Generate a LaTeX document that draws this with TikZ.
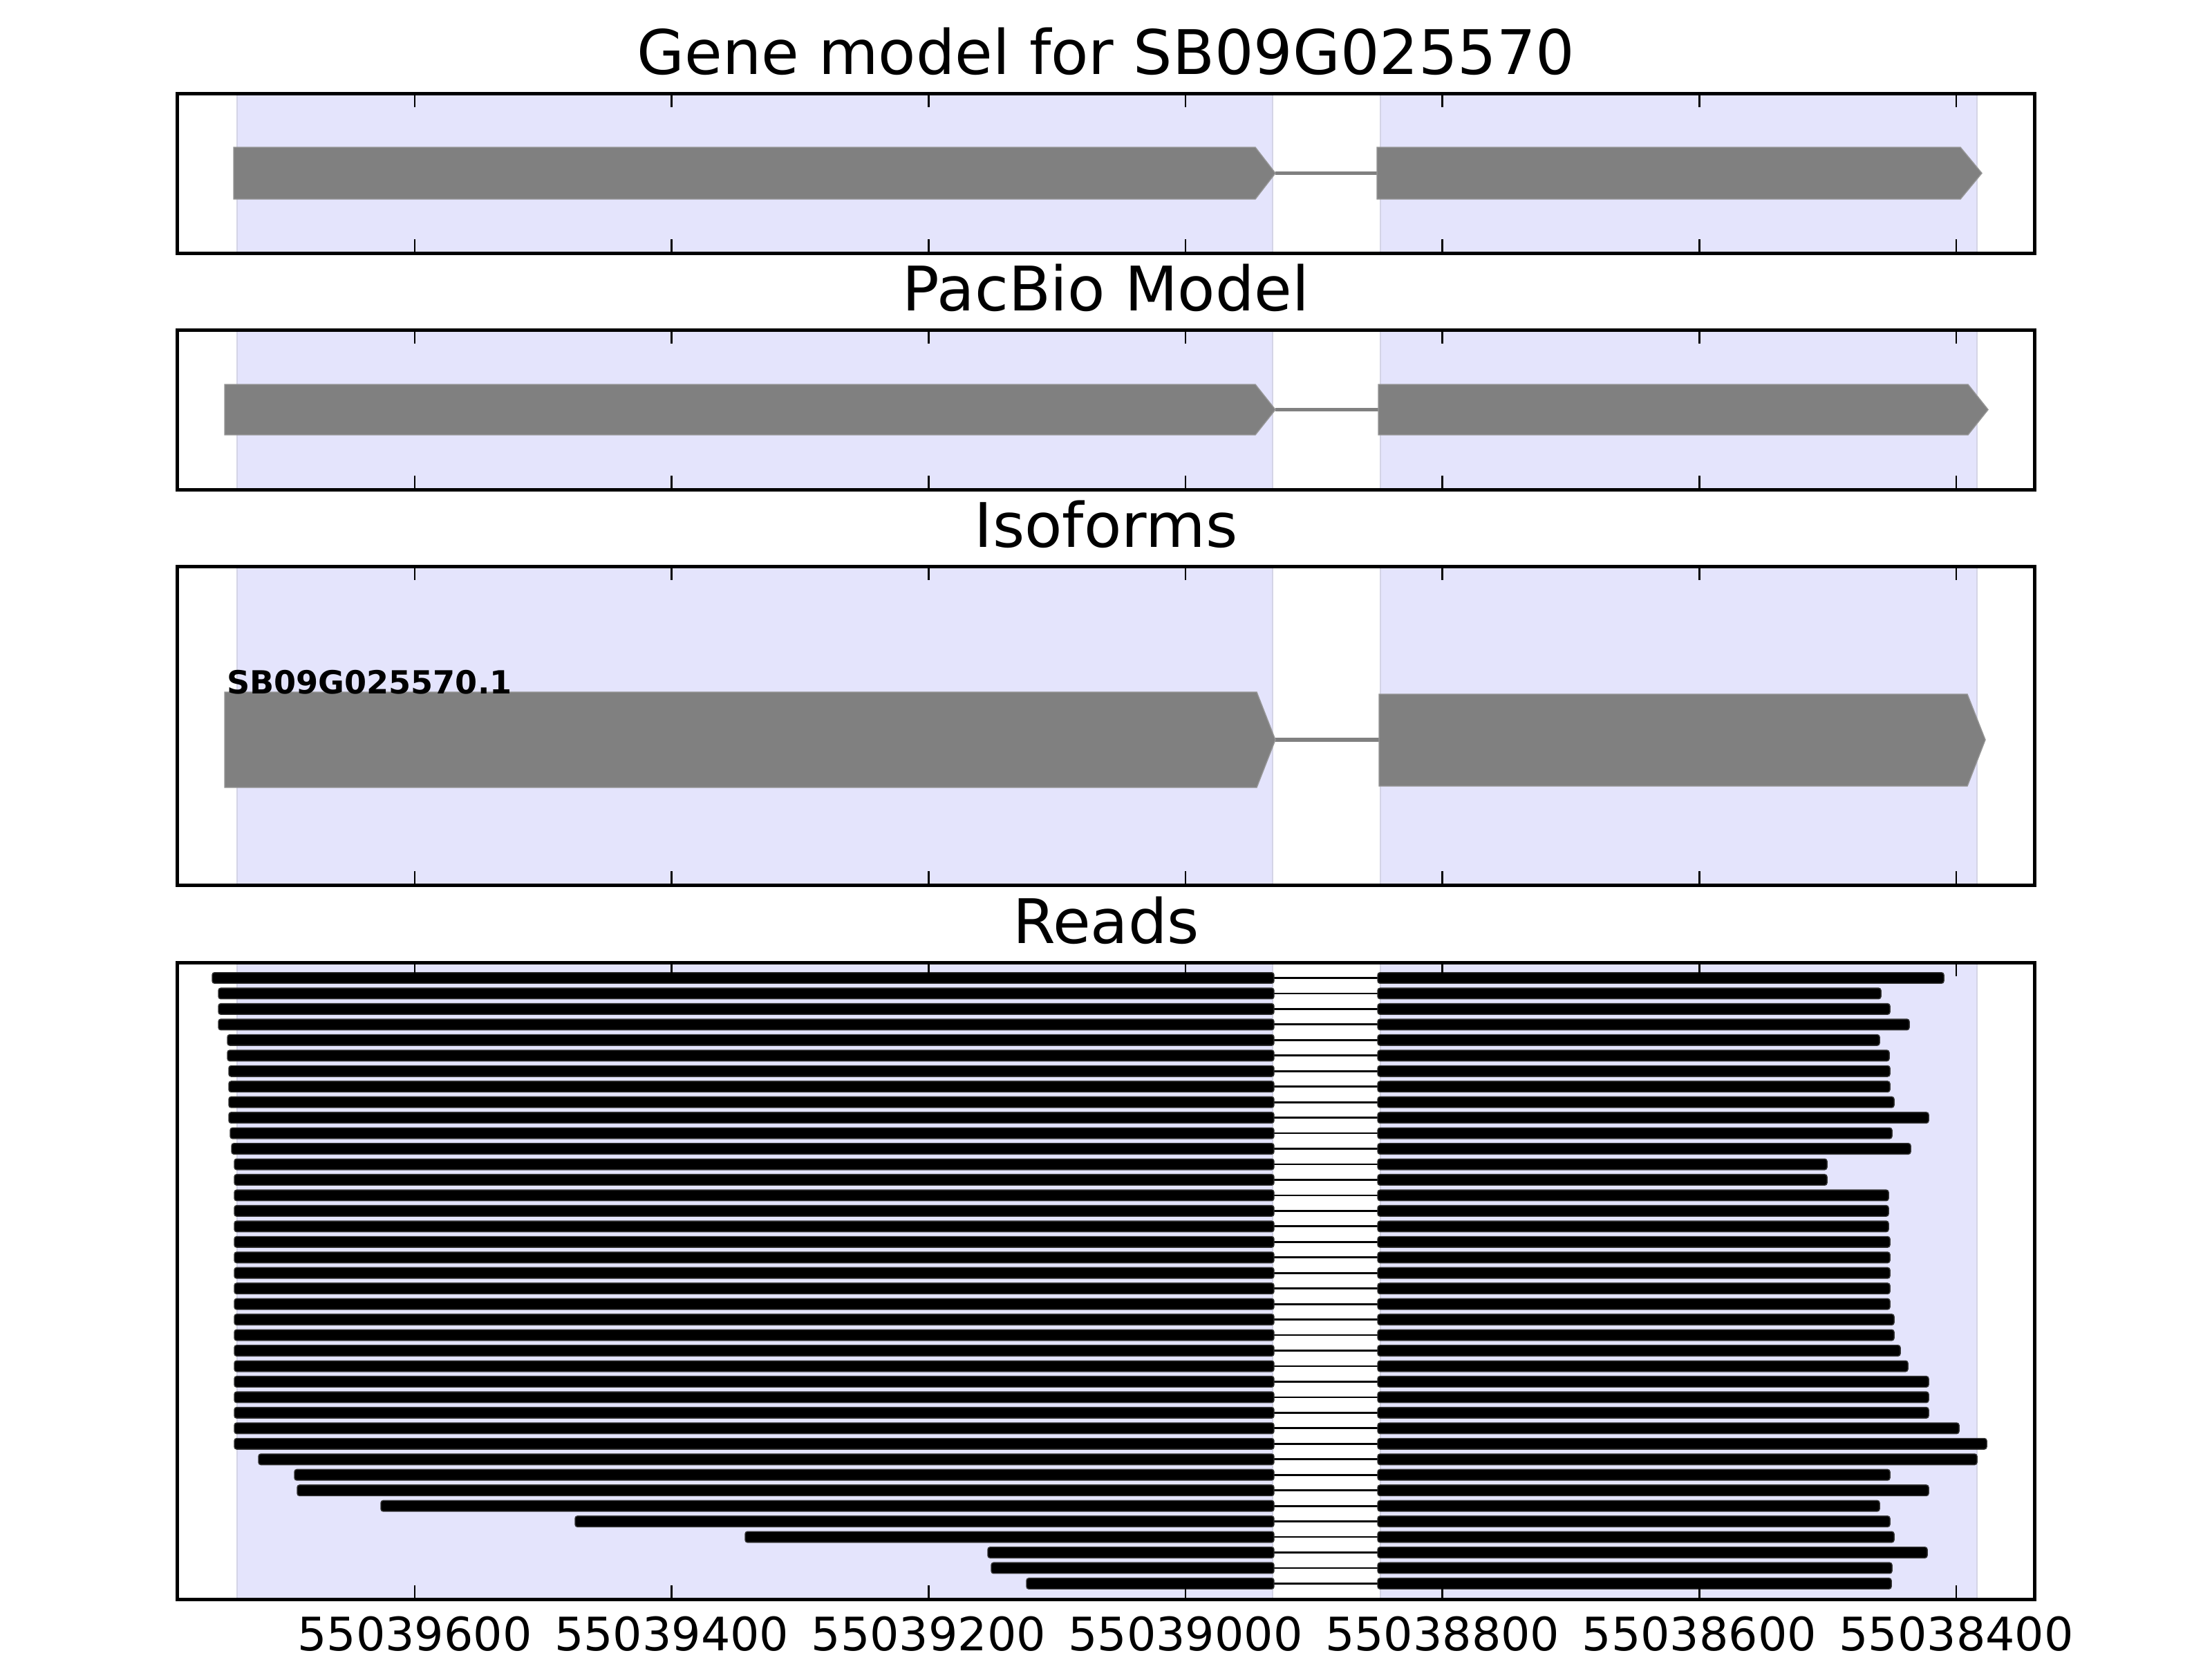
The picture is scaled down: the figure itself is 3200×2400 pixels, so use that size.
\documentclass[tikz,border=0pt]{standalone}
\usepackage{fontspec}
\setmainfont{DejaVu Sans}
\definecolor{spanfill}{RGB}{228,228,252}
\definecolor{spanedge}{RGB}{212,212,230}
\definecolor{genegray}{RGB}{128,128,128}
\definecolor{geneedge}{RGB}{150,150,150}
\begin{document}
\begin{tikzpicture}[x=0.18pt,y=-0.18pt,
  spanbox/.style={fill=spanfill},
  spanline/.style={draw=spanedge,line width=0.35pt},
  exonshape/.style={fill=genegray,draw=geneedge,line width=0.25pt},
  intronline/.style={draw=genegray,line width=1pt},
  readbar/.style={fill=black,draw=black!80,line width=0.25pt,rounded corners=0.6pt},
  readintron/.style={draw=black,line width=0.5pt},
  framebox/.style={draw=black,line width=0.9pt},
  tickmark/.style={draw=black,line width=0.5pt},
  paneltitle/.style={anchor=base,font=\fontsize{16}{19}\selectfont,inner sep=0pt},
  ticklabel/.style={anchor=base,font=\fontsize{12}{14}\selectfont,inner sep=0pt},
  isolabel/.style={anchor=base west,font=\fontsize{8.3}{10}\selectfont\bfseries,inner sep=0pt}]
\useasboundingbox (0,0) rectangle (3200,2400);
\fill[white] (0,0) rectangle (3200,2400);
% exon spans in every panel
\foreach \t/\b in {135/366,477/708,819/1280,1392/2313}{
  \fill[spanbox] (343,\t) rectangle (1841,\b);
  \fill[spanbox] (1997,\t) rectangle (2860,\b);
  \draw[spanline] (343,\t) -- (343,\b);
  \draw[spanline] (1841,\t) -- (1841,\b);
  \draw[spanline] (1997,\t) -- (1997,\b);
  \draw[spanline] (2860,\t) -- (2860,\b);
}
% panel 1: gene model
\draw[intronline] (1845,250.5) -- (1992,250.5);
\path[exonshape] (338,213) -- (1816,213) -- (1845,250.5) -- (1816,288) -- (338,288) -- cycle;
\path[exonshape] (1992,213) -- (2836,213) -- (2867,250.5) -- (2836,288) -- (1992,288) -- cycle;
% panel 2: PacBio model
\draw[intronline] (1845,592.5) -- (1994,592.5);
\path[exonshape] (325,556) -- (1816,556) -- (1845,592.5) -- (1816,629) -- (325,629) -- cycle;
\path[exonshape] (1994,556) -- (2847,556) -- (2876,592.5) -- (2847,629) -- (1994,629) -- cycle;
% panel 3: isoforms
\draw[intronline] (1845,1070) -- (1995,1070);
\path[exonshape] (325,1001) -- (1818,1001) -- (1845,1070) -- (1818,1139) -- (325,1139) -- cycle;
\path[exonshape] (1995,1004) -- (2846,1004) -- (2872,1070) -- (2846,1137) -- (1995,1137) -- cycle;
\node[isolabel] (iso1) at (327,1003) {SB09G025570.1};
% panel 4: reads
\foreach \i/\L/\R in {1/307/2812,2/316/2721,3/316/2734,4/316/2762,5/329/2719,6/329/2733,
  7/331/2734,8/331/2734,9/331/2740,10/331/2790,11/333/2737,12/335/2764,13/339/2643,
  14/339/2643,15/339/2732,16/339/2732,17/339/2732,18/339/2734,19/339/2734,20/339/2734,
  21/339/2734,22/339/2734,23/339/2740,24/339/2740,25/339/2749,26/339/2760,27/339/2790,
  28/339/2790,29/339/2790,30/339/2834,31/339/2874,32/374/2860,33/426/2734,34/430/2790,
  35/551/2719,36/832/2734,37/1078/2740,38/1429/2788,39/1434/2737,40/1485/2736}{
  \pgfmathsetmacro\yc{1392+22.46*\i}
  \pgfmathsetmacro\ya{\yc-7.8}
  \pgfmathsetmacro\yb{\yc+7.8}
  \draw[readintron] (1843,\yc) -- (1993,\yc);
  \path[readbar] (\L,\ya) rectangle (1843,\yb);
  \path[readbar] (1993,\ya) rectangle (\R,\yb);
}
% frames and ticks
\foreach \t/\b in {135/366,477/708,819/1280,1392/2313}{
  \foreach \k in {0,...,6}{
    \pgfmathsetmacro\xx{600+371.67*\k}
    \draw[tickmark] (\xx,\t) -- ++(0,20);
    \draw[tickmark] (\xx,\b) -- ++(0,-20);
  }
  \draw[framebox] (256,\t) rectangle (2943,\b);
}
% titles
\node[paneltitle] (title1) at (1600,107) {Gene model for SB09G025570};
\node[paneltitle] (title2) at (1600,449) {PacBio Model};
\node[paneltitle] (title3) at (1600,791) {Isoforms};
\node[paneltitle] (title4) at (1600,1364) {Reads};
% tick labels
\foreach \k/\lab in {0/55039600,1/55039400,2/55039200,3/55039000,4/55038800,5/55038600,6/55038400}{
  \node[ticklabel] (tl\k) at ({600+371.67*\k},2387) {\lab};
}
\end{tikzpicture}
\end{document}
